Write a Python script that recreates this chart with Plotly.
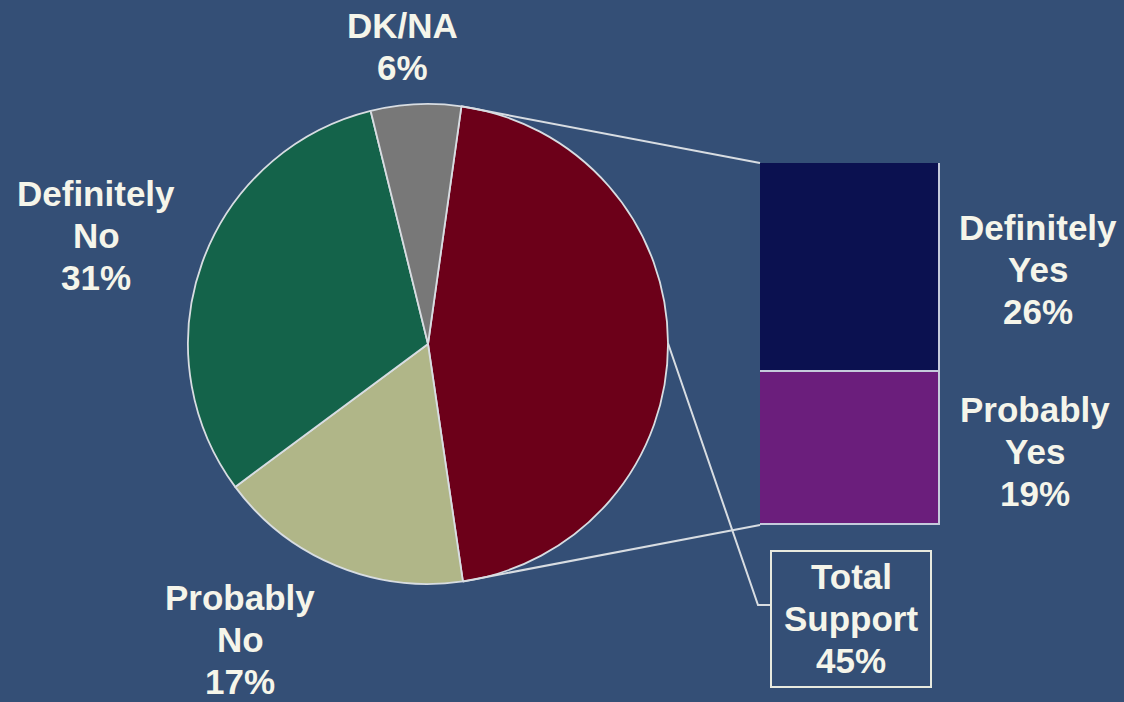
import math
import plotly.graph_objects as go

# ---- data ----
pie_labels = ["Total Support", "Probably No", "Definitely No", "DK/NA"]
pie_values = [45, 17, 31, 6]
pie_colors = ["#6c0019", "#b0b688", "#14634a", "#787878"]

bar_labels = ["Probably Yes", "Definitely Yes"]
bar_values = [19, 26]
bar_colors = ["#6b1e7c", "#0b1150"]

label_lines = {
    "DK/NA": ["DK/NA", "6%"],
    "Definitely No": ["Definitely", "No", "31%"],
    "Probably No": ["Probably", "No", "17%"],
    "Definitely Yes": ["Definitely", "Yes", "26%"],
    "Probably Yes": ["Probably", "Yes", "19%"],
    "Total Support": ["Total", "Support", "45%"],
}

# ---- layout geometry (pixels) ----
W, H = 1124, 702
BG = "#344f76"
TXT = "#f5f5ea"
LINE = "#d8dde2"
cx, cy, R = 428, 344, 240
rotation = 8
bar_x0, bar_x1, bar_top, bar_bot = 760, 940, 163, 525
pitch = 42

def px(x):
    return x / W

def py(y):
    return 1 - y / H

total = sum(pie_values)

def pie_point(frac):
    ang = math.radians(rotation + frac * 360)
    return cx + R * math.sin(ang), cy - R * math.cos(ang)

fig = go.Figure()
fig.add_trace(go.Pie(
    labels=pie_labels, values=pie_values, sort=False, direction="clockwise",
    rotation=rotation, textinfo="none", hoverinfo="label+percent",
    marker=dict(colors=pie_colors, line=dict(color=LINE, width=1.8)),
    domain=dict(x=[px(cx - R), px(cx + R)], y=[py(cy + R), py(cy - R)]),
    showlegend=False,
))

for lab, val, col in zip(bar_labels, bar_values, bar_colors):
    fig.add_trace(go.Bar(
        x=[0], y=[val], name=lab, width=1,
        marker=dict(color=col, line=dict(color="#c5cbdc", width=1.8)),
        showlegend=False, xaxis="x", yaxis="y",
    ))

# connector lines
sup_frac = pie_values[0] / total
p_start = pie_point(0)
p_end = pie_point(sup_frac)
p_mid = pie_point(sup_frac / 2)
shapes = [
    dict(type="line", xref="paper", yref="paper", x0=px(p_start[0]), y0=py(p_start[1]),
         x1=px(bar_x0), y1=py(bar_top), line=dict(color=LINE, width=2)),
    dict(type="line", xref="paper", yref="paper", x0=px(p_end[0]), y0=py(p_end[1]),
         x1=px(bar_x0), y1=py(bar_bot), line=dict(color=LINE, width=2)),
    dict(type="path", xref="paper", yref="paper",
         path=f"M {px(p_mid[0])},{py(p_mid[1])} L {px(758)},{py(605)} L {px(771)},{py(605)}",
         line=dict(color=LINE, width=2)),
    dict(type="rect", xref="paper", yref="paper", x0=px(771), y0=py(551), x1=px(931), y1=py(687),
         line=dict(color="#e8eadf", width=2)),
]

font = dict(family="Liberation Sans, Arial, sans-serif", size=35, color=TXT)
positions = {
    "DK/NA": (402, 47),
    "Definitely No": (96, 235),
    "Probably No": (240, 639),
    "Definitely Yes": (1038, 269),
    "Probably Yes": (1035, 451),
    "Total Support": (851, 618),
}
annotations = []
for key, (x, y) in positions.items():
    lines = label_lines[key]
    n = len(lines)
    for i, t in enumerate(lines):
        yy = y + (i - (n - 1) / 2) * pitch
        annotations.append(dict(
            x=px(x), y=py(yy), xref="paper", yref="paper", text="<b>" + t + "</b>",
            showarrow=False, font=font, align="center", xanchor="center", yanchor="middle",
        ))

fig.update_layout(
    width=W, height=H, margin=dict(l=0, r=0, t=0, b=0),
    paper_bgcolor=BG, plot_bgcolor=BG, barmode="stack", bargap=0,
    xaxis=dict(domain=[px(bar_x0), px(bar_x1)], range=[-0.5, 0.5], visible=False, fixedrange=True),
    yaxis=dict(domain=[py(bar_bot), py(bar_top)], range=[0, sum(bar_values)], visible=False, fixedrange=True),
    shapes=shapes, annotations=annotations,
)

fig.write_html(
    "out.html",
    config={"displayModeBar": False},
    post_script="document.body.style.margin='0';document.body.style.overflow='hidden';",
)
